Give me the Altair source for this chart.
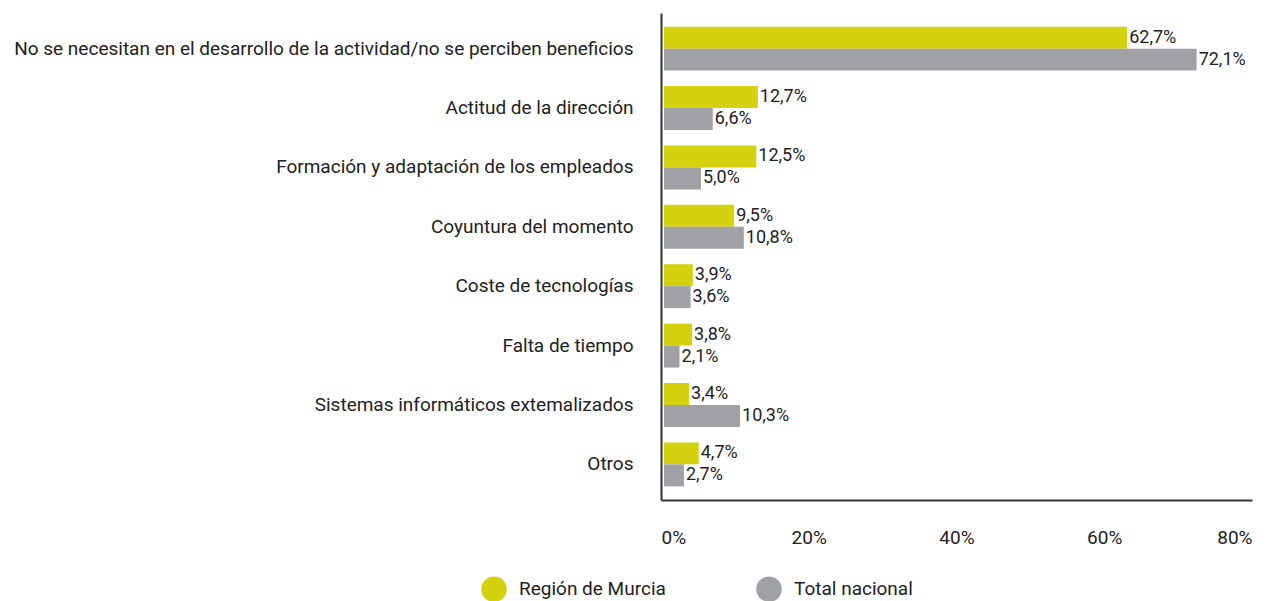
import altair as alt
import pandas as pd

categories = [
    "No se necesitan en el desarrollo de la actividad/no se perciben beneficios",
    "Actitud de la dirección",
    "Formación y adaptación de los empleados",
    "Coyuntura del momento",
    "Coste de tecnologías",
    "Falta de tiempo",
    "Sistemas informáticos extemalizados",
    "Otros",
]
series = ["Región de Murcia", "Total nacional"]
murcia = [62.7, 12.7, 12.5, 9.5, 3.9, 3.8, 3.4, 4.7]
nacional = [72.1, 6.6, 5.0, 10.8, 3.6, 2.1, 10.3, 2.7]
colors = ["#d4d10f", "#a0a1a5"]

rows = []
for c, m, n in zip(categories, murcia, nacional):
    for s, v in zip(series, [m, n]):
        rows.append({"cat": c, "serie": s, "valor": v,
                     "label": f"{v:.1f}".replace(".", ",") + "%"})
df = pd.DataFrame(rows)

FONT = "Roboto"

y_enc = alt.Y("cat:N", sort=categories,
              scale=alt.Scale(paddingInner=0.26, paddingOuter=0.23),
              axis=alt.Axis(title=None, ticks=False, labelFontSize=19, labelFont=FONT,
                            labelColor="#222", labelPadding=28, labelLimit=800,
                            domainColor="#333", domainWidth=2))
yoff = alt.YOffset("serie:N", sort=series)

base = alt.Chart(df)
bars = base.mark_bar(xOffset=3).encode(
    x=alt.X("valor:Q", scale=alt.Scale(domain=[0, 80], nice=False),
            axis=alt.Axis(title=None, values=[0, 20, 40, 60, 80], grid=False, ticks=False,
                          labelExpr="datum.value + '%'", labelFontSize=19, labelFont=FONT,
                          labelColor="#222", labelPadding=28, domainColor="#333",
                          domainWidth=2)),
    y=y_enc,
    yOffset=yoff,
    color=alt.Color("serie:N", sort=series,
                    scale=alt.Scale(domain=series, range=colors),
                    legend=alt.Legend(title=None, orient="none", direction="horizontal",
                                      legendX=-180, legendY=563,
                                      symbolType="circle", symbolSize=650,
                                      symbolStrokeWidth=0, labelFontSize=19,
                                      labelFont=FONT, labelColor="#222",
                                      columnPadding=90, labelOffset=12)),
)
text = base.mark_text(align="left", baseline="middle", dx=5, fontSize=18,
                      font=FONT, color="#222").encode(
    x="valor:Q",
    y=alt.Y("cat:N", sort=categories),
    yOffset=yoff,
    text="label:N",
)

chart = (bars + text).properties(width=591, height=487).configure_view(stroke=None)
chart.save("out.html", embed_options={"renderer": "svg", "actions": False})
